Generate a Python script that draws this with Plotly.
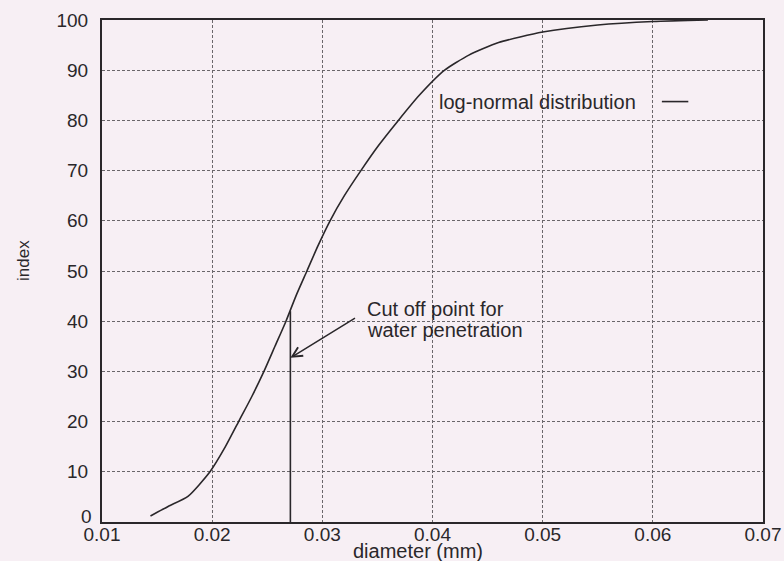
import plotly.graph_objects as go

# Cumulative particle-size curve (log-normal fit)
diameter = [0.0144, 0.0160, 0.0178, 0.0198, 0.0212, 0.0224, 0.0236, 0.0247,
            0.0257, 0.0267, 0.0276, 0.0286, 0.0296, 0.0307, 0.0320, 0.0335,
            0.0351, 0.0369, 0.0388, 0.0411, 0.0433, 0.0460, 0.0500, 0.0550,
            0.0600, 0.0650]
index_vals = [1.2, 3.1, 5.1, 10.0, 15.0, 20.0, 25.0, 30.0,
              35.0, 40.0, 45.0, 50.0, 55.0, 60.0, 65.0, 70.0,
              75.0, 80.0, 85.0, 90.0, 93.0, 95.5, 97.6, 99.0,
              99.7, 100.0]

# Cut-off diameter for water penetration and the curve value there
cutoff_x = [0.0271, 0.0271]
cutoff_y = [0.0, 42.0]

x_ticks = [0.01, 0.02, 0.03, 0.04, 0.05, 0.06, 0.07]
x_ticktext = ["0.01", "0.02", "0.03", "0.04", "0.05", "0.06", "0.07"]
y_ticks = [10, 20, 30, 40, 50, 60, 70, 80, 90, 100]

INK = "#2a272a"
BG = "#f7eff4"
FONT = "Liberation Sans, Arial, sans-serif"

fig = go.Figure()
fig.add_trace(go.Scatter(
    x=diameter, y=index_vals, mode="lines",
    line=dict(color=INK, width=1.6, shape="spline", smoothing=0.6),
    showlegend=False, hoverinfo="skip",
))
fig.add_trace(go.Scatter(
    x=cutoff_x, y=cutoff_y, mode="lines",
    line=dict(color=INK, width=1.6),
    showlegend=False, hoverinfo="skip",
))

axis_common = dict(
    showline=True, linecolor=INK, linewidth=2, mirror=True,
    showgrid=True, gridcolor="#6a666a", gridwidth=1, griddash="3px,2px",
    zeroline=False, ticks="", automargin=False,
    tickfont=dict(family=FONT, size=19, color=INK),
)

fig.update_xaxes(
    range=[0.01, 0.07], tickvals=x_ticks, ticktext=x_ticktext,
    ticklabelstandoff=-6, **axis_common,
)
fig.update_yaxes(
    range=[0, 100], tickvals=y_ticks, ticklabelstandoff=8, **axis_common,
)

annotations = [
    # zero label on the y axis, nudged above the x tick label
    dict(x=0, y=0, xref="paper", yref="y", text="0", showarrow=False,
         xanchor="right", yanchor="middle", xshift=-8, yshift=6,
         font=dict(family=FONT, size=19, color=INK)),
    dict(x=0.478, y=0, xref="paper", yref="paper", text="diameter (mm)",
         showarrow=False, xanchor="center", yanchor="middle", yshift=-29,
         font=dict(family=FONT, size=20, color=INK)),
    dict(x=-0.118, y=0.52, xref="paper", yref="paper", text="index",
         showarrow=False, textangle=-90, xanchor="center", yanchor="middle",
         font=dict(family=FONT, size=17, color=INK)),
    dict(x=0.507, y=0.8375, xref="paper", yref="paper",
         text="log-normal distribution", showarrow=False,
         xanchor="left", yanchor="middle",
         font=dict(family=FONT, size=20, color=INK)),
    dict(x=0.0339, y=42.4, xref="x", yref="y", text="Cut off point for",
         showarrow=False, xanchor="left", yanchor="middle",
         font=dict(family=FONT, size=20, color=INK)),
    dict(x=0.0339, y=38.2, xref="x", yref="y", text="water penetration",
         showarrow=False, xanchor="left", yanchor="middle",
         font=dict(family=FONT, size=20, color=INK)),
    # arrow pointing at the cut-off line
    dict(x=0.0271, y=32.7, ax=0.0331, ay=40.8, xref="x", yref="y",
         axref="x", ayref="y", text="", showarrow=True,
         arrowhead=5, arrowsize=1.3, arrowwidth=1.5, arrowcolor=INK),
]

fig.update_layout(
    width=784, height=561,
    margin=dict(l=102, r=21, t=20, b=39),
    paper_bgcolor=BG, plot_bgcolor=BG,
    font=dict(family=FONT, color=INK),
    annotations=annotations,
    shapes=[dict(type="line", xref="paper", yref="paper",
                 x0=0.847, x1=0.887, y0=0.8375, y1=0.8375,
                 line=dict(color=INK, width=1.6))],
)

fig.write_html("out.html")
